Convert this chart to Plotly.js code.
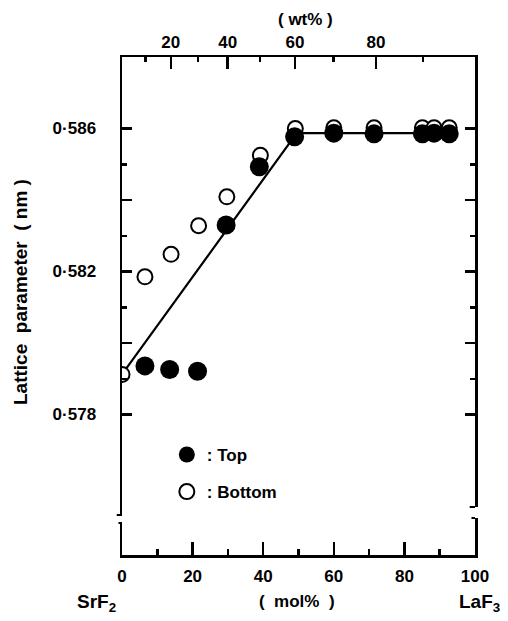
<!DOCTYPE html>
<html>
<head>
<meta charset="utf-8">
<script src="https://cdn.plot.ly/plotly-3.0.1.min.js"></script>
<style>html,body{margin:0;padding:0;background:#fff;}#chart{width:508px;height:621px;}</style>
</head>
<body>
<div id="chart"></div>
<script>
// ---- data ----
const bottomX = [0, 6.5, 13.9, 21.7, 29.7, 39.2, 49.1, 60, 71.4, 85.1, 88.4, 92.7];
const bottomY = [0.57912, 0.58185, 0.58248, 0.58328, 0.58409, 0.58525, 0.58600, 0.58602, 0.58602, 0.58602, 0.58602, 0.58602];
const topX = [6.5, 13.5, 21.4, 29.5, 38.9, 48.9, 60, 71.4, 85.1, 88.4, 92.7];
const topY = [0.57936, 0.57926, 0.57921, 0.58330, 0.58493, 0.58577, 0.58587, 0.58585, 0.58585, 0.58587, 0.58585];
const fitX = [0, 49.5, 93];
const fitY = [0.57912, 0.58587, 0.58587];

const molTicks = [0, 20, 40, 60, 80, 100];
const molMinor = [10, 30, 50, 70, 90];
const wtTicks = [20, 40, 60, 80];
const wtMinor = [10, 30, 50, 70, 90];
const yLabelTicks = [0.578, 0.582, 0.586];
const yLabelText = ['0·578', '0·582', '0·586'];
const yMidTicks = [0.580, 0.584];
const yMinor = [0.579, 0.581, 0.583, 0.585];

// molar masses for wt% -> mol% conversion of the top axis
const M_LaF3 = 195.90, M_SrF2 = 125.62;
const wtToMol = w => 100 * (w / M_LaF3) / (w / M_LaF3 + (100 - w) / M_SrF2);

const F = {family: 'Liberation Sans, Arial, sans-serif', size: 17, color: '#000', weight: 'bold'};
const FL = Object.assign({}, F, {size: 19});

const traces = [
  {x: fitX, y: fitY, mode: 'lines', line: {color: '#000', width: 2.2}, showlegend: false, hoverinfo: 'skip'},
  {x: bottomX, y: bottomY, mode: 'markers', name: ': Bottom', legendgroup: 'b', legendrank: 2,
   marker: {symbol: 'circle', size: 15, color: '#fff', line: {color: '#000', width: 2}}},
  {x: topX, y: topY, mode: 'markers', name: ': Top', legendgroup: 'a', legendrank: 1,
   marker: {symbol: 'circle', size: 19, color: '#000', line: {width: 0}}},
  {x: [], y: [], xaxis: 'x2', yaxis: 'y', showlegend: false},
  {x: [], y: [], xaxis: 'x', yaxis: 'y2', showlegend: false}
];

const axBase = {showgrid: false, zeroline: false, showline: true, linecolor: '#000', linewidth: 2.5,
  ticks: 'inside', tickcolor: '#000', tickwidth: 2.5, tickfont: F};
const yRange = [0.57407, 0.588];

const py = p => 0.588 - (p - 57) / 35750; // pixel -> y value for the axis-break decoration
const px = p => (p - 122) / 353;

const layout = {
  width: 508, height: 621,
  margin: {l: 122, r: 33, t: 57, b: 66},
  paper_bgcolor: '#fff', plot_bgcolor: '#fff',
  font: F,
  showlegend: true,
  legend: {x: 0.127, y: 0.237, xanchor: 'left', yanchor: 'top', bgcolor: 'rgba(0,0,0,0)',
    font: F, traceorder: 'grouped', tracegroupgap: 12},
  xaxis: Object.assign({}, axBase, {range: [0, 100], tickmode: 'array', tickvals: molTicks,
    ticktext: molTicks.map(String), ticklen: 13, mirror: false, ticklabelstandoff: 4,
    minor: {tickmode: 'array', tickvals: molMinor, ticks: 'inside', ticklen: 6, tickwidth: 2.5, tickcolor: '#000'}}),
  xaxis2: Object.assign({}, axBase, {range: [0, 100], overlaying: 'x', side: 'top', anchor: 'y',
    tickmode: 'array', tickvals: wtTicks.map(wtToMol), ticktext: wtTicks.map(String), ticklen: 12,
    ticklabelstandoff: 0,
    minor: {tickmode: 'array', tickvals: wtMinor.map(wtToMol), ticks: 'inside', ticklen: 5, tickwidth: 2.5, tickcolor: '#000'}}),
  yaxis: Object.assign({}, axBase, {range: yRange, tickmode: 'array', tickvals: yLabelTicks,
    ticktext: yLabelText, ticklen: 10, mirror: 'ticks', ticklabelstandoff: 20,
    minor: {tickmode: 'array', tickvals: yMinor, ticks: 'inside', ticklen: 5, tickwidth: 2.5, tickcolor: '#000'}}),
  yaxis2: Object.assign({}, axBase, {range: yRange, overlaying: 'y', side: 'left', anchor: 'x',
    tickmode: 'array', tickvals: yMidTicks, showticklabels: false, ticklen: 10, mirror: 'ticks'}),
  shapes: [
    {type: 'line', xref: 'paper', yref: 'y', x0: 0, x1: 0, y0: py(523), y1: py(515), line: {color: '#fff', width: 6}, layer: 'above'},
    {type: 'line', xref: 'paper', yref: 'y', x0: -0.015, x1: 0, y0: py(515), y1: py(515), line: {color: '#000', width: 2}, layer: 'above'},
    {type: 'line', xref: 'paper', yref: 'y', x0: -0.01, x1: 0, y0: py(523), y1: py(523), line: {color: '#000', width: 2}, layer: 'above'},
    {type: 'line', xref: 'paper', yref: 'y', x0: 1, x1: 1, y0: py(518), y1: py(507), line: {color: '#fff', width: 6}, layer: 'above'},
    {type: 'line', xref: 'paper', yref: 'y', x0: 0.985, x1: 1, y0: py(507), y1: py(507), line: {color: '#000', width: 2}, layer: 'above'},
    {type: 'line', xref: 'paper', yref: 'y', x0: 0.99, x1: 1, y0: py(518), y1: py(518), line: {color: '#000', width: 2}, layer: 'above'}
  ],
  annotations: [
    {text: '( wt% )', xref: 'paper', yref: 'paper', x: px(305), y: (555 - 20) / 498, showarrow: false, xanchor: 'center', yanchor: 'middle', font: F},
    {text: '(  mol%  )', xref: 'paper', yref: 'paper', x: px(297), y: (555 - 601) / 498, showarrow: false, xanchor: 'center', yanchor: 'middle', font: F},
    {text: 'SrF<sub>2</sub>', xref: 'paper', yref: 'paper', x: px(75), y: (555 - 603) / 498, showarrow: false, xanchor: 'left', yanchor: 'middle', font: FL},
    {text: 'LaF<sub>3</sub>', xref: 'paper', yref: 'paper', x: px(457), y: (555 - 603) / 498, showarrow: false, xanchor: 'left', yanchor: 'middle', font: FL},
    {text: 'Lattice  parameter  ( nm )', xref: 'paper', yref: 'paper', x: px(20), y: (555 - 292) / 498, textangle: -90, showarrow: false, xanchor: 'center', yanchor: 'middle', font: FL}
  ]
};

Plotly.newPlot('chart', traces, layout, {staticPlot: true, displayModeBar: false});
</script>
</body>
</html>
